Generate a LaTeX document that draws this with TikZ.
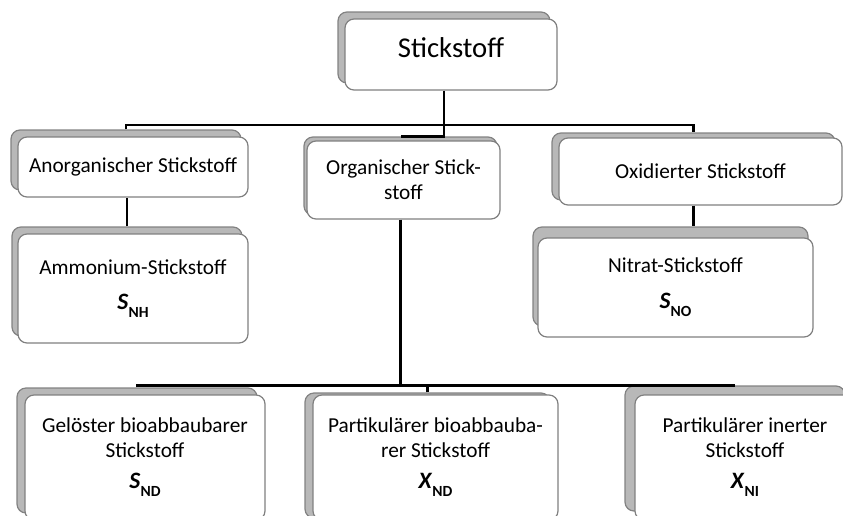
\documentclass[tikz,border=0pt]{standalone}
\usepackage{fontspec}
\setmainfont{Carlito}
\definecolor{boxline}{RGB}{128,128,128}
\definecolor{backfill}{RGB}{184,184,184}
\definecolor{backline}{RGB}{130,130,130}
\tikzset{
  box/.style={draw=boxline,fill=white,rounded corners=9pt,line width=1.2pt,
    align=center,inner sep=0pt,font=\fontsize{21.3}{25}\selectfont},
  back/.style={draw=backline,fill=backfill,rounded corners=9pt,line width=1.2pt,inner sep=0pt},
  conn/.style={black,line width=2.2pt}
}
\newcommand{\sym}[2]{{\fontsize{23.5}{25}\selectfont\textbf{\textit{#1}}}%
  \raisebox{-8pt}{\fontsize{15.5}{16}\selectfont\textbf{#2}}}
\begin{document}
\begin{tikzpicture}[x=1pt,y=-1pt]
\useasboundingbox (0,0) rectangle (843,515);
\clip (0,0) rectangle (843,515);

%top level
\node[back,minimum width=212,minimum height=71] (stick-s) at (444,47.5) {};
\node[box,minimum width=212,minimum height=71,text depth=13pt,
      font=\fontsize{28.7}{34}\selectfont] (stick) at (451,54.5) {Stickstoff};

%middle level
\node[back,minimum width=230,minimum height=60] (anorg-s) at (126,160) {};
\node[box,minimum width=230,minimum height=60] (anorg) at (133,167) {Anorganischer Stickstoff};
\node[back,minimum width=193,minimum height=78] (org-s) at (400.5,176) {};
\node[box,minimum width=193,minimum height=78] (org) at (403.5,180) {Organischer Stick-\\stoff};
\node[back,minimum width=283,minimum height=67] (oxid-s) at (693.5,166.5) {};
\node[box,minimum width=283,minimum height=67] (oxid) at (700.5,171.5) {Oxidierter Stickstoff};

\node[back,minimum width=230,minimum height=109] (ammon-s) at (127,281.5) {};
\node[box,minimum width=230,minimum height=109] (ammon) at (133,288.5) {Ammonium-Stickstoff\\[10pt]\sym{S}{NH}};
\node[back,minimum width=275,minimum height=99] (nitrat-s) at (670.5,276.5) {};
\node[box,minimum width=275,minimum height=99] (nitrat) at (675.5,287.5) {Nitrat-Stickstoff\\[11pt]\sym{S}{NO}};

%bottom level
\node[back,minimum width=240,minimum height=125] (geloest-s) at (137,450.5) {};
\node[box,minimum width=240,minimum height=125] (geloest) at (145,457.5) {Gelöster bioabbaubarer\\Stickstoff\\[6pt]\sym{S}{ND}};
\node[back,minimum width=245,minimum height=125] (partbio-s) at (427.5,455.5) {};
\node[box,minimum width=245,minimum height=125] (partbio) at (435.5,457.5) {Partikulärer bioabbauba-\\rer Stickstoff\\[6pt]\sym{X}{ND}};
\node[back,minimum width=220,minimum height=125] (partin-s) at (735,448.5) {};
\node[box,minimum width=220,minimum height=125] (partin) at (745,457.5) {Partikulärer inerter\\Stickstoff\\[6pt]\sym{X}{NI}};

%connectors
\coordinate (bus1) at (0,125);
\coordinate (bus2) at (0,386);
\draw[conn] (stick-s.south |- stick.south) -- (stick-s.south |- bus1);
\draw[conn] (anorg-s.north) |- (oxid-s.north |- bus1) -- (oxid-s.north);
\draw[conn] (stick-s.south |- bus1) |- (org-s.north);
\draw[conn] (ammon-s.north) -- (ammon-s.north |- anorg.south);
\draw[conn] (oxid-s.south |- oxid.south) -- (oxid-s.south |- nitrat-s.north);
\draw[conn] (org-s.south |- org.south) -- (org-s.south |- bus2);
\draw[conn] (geloest-s.north) |- (partin-s.north);
\draw[conn] (partbio-s.north) -- (partbio-s.north |- bus2);
\end{tikzpicture}
\end{document}
